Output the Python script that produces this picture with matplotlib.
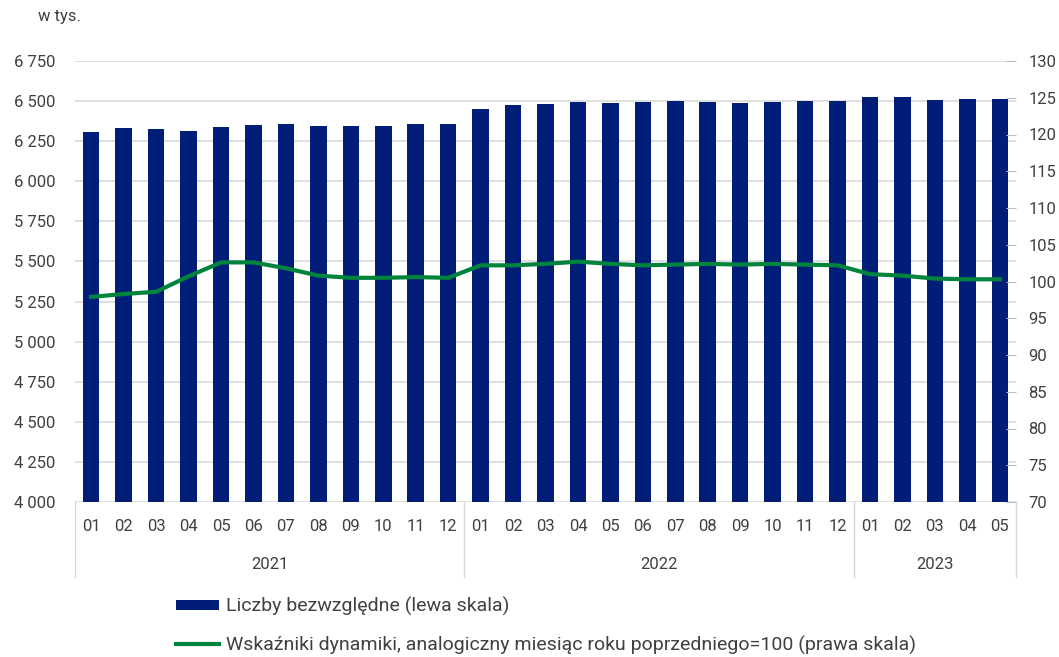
import numpy as np
import matplotlib.pyplot as plt
from matplotlib.patches import Patch
from matplotlib.lines import Line2D
import matplotlib.transforms as mtransforms

plt.rcParams['font.family'] = ['Roboto', 'DejaVu Sans']

# data
years = ['2021', '2022', '2023']
months_per_year = [12, 12, 5]
months = ['%02d' % m for n in months_per_year for m in range(1, n + 1)]

absolute = [6308, 6331, 6324, 6316, 6337, 6351, 6359, 6345, 6345, 6345, 6359, 6359,
            6450, 6473, 6479, 6494, 6486, 6494, 6500, 6494, 6486, 6494, 6500, 6500,
            6523, 6523, 6508, 6514, 6514]
dynamics = [97.9, 98.3, 98.6, 100.7, 102.6, 102.6, 101.8, 100.8, 100.5, 100.5, 100.6, 100.5,
            102.2, 102.2, 102.4, 102.7, 102.4, 102.2, 102.3, 102.4, 102.3, 102.4, 102.3, 102.2,
            101.0, 100.8, 100.4, 100.3, 100.3]

left_ticks = np.arange(4000, 6751, 250)
right_ticks = np.arange(70, 131, 5)

bar_col = '#001d77'
line_col = '#00843d'
txt_col = '#404040'
grid_col = '#d9d9d9'

fig = plt.figure(figsize=(10.59, 6.57), dpi=100)
ax = fig.add_axes([75/1059, 1-502/657, (1016-75)/1059, 441/657])
ax2 = ax.twinx()

x = np.arange(len(months))
ax.bar(x, absolute, width=0.51, color=bar_col, zorder=2)
ax.set_ylim(4000, 6750)
ax.set_xlim(-0.5, len(months) - 0.5)
ax.set_yticks(left_ticks)
ax.set_yticklabels([f"{v:,}".replace(',', ' ') for v in left_ticks])
ax.yaxis.grid(True, color=grid_col, lw=1.2, zorder=0)
ax.set_axisbelow(True)
ax.tick_params(axis='y', length=0, pad=14, labelsize=12, labelcolor=txt_col)
ax.set_xticks(x)
ax.set_xticklabels(months)
ax.tick_params(axis='x', length=0, pad=12, labelsize=12, labelcolor=txt_col)

ax2.plot(x, dynamics, color=line_col, lw=3, zorder=3)
ax2.set_ylim(70, 130)
ax2.set_yticks(right_ticks)
ax2.tick_params(axis='y', direction='in', length=7, color='#bfbfbf', pad=9,
                labelsize=12, labelcolor=txt_col)

for a in (ax, ax2):
    for s in a.spines.values():
        s.set_visible(False)

# year grouping below the month labels
trans = mtransforms.blended_transform_factory(ax.transData, ax.transAxes)
edges = np.concatenate([[0], np.cumsum(months_per_year)]) - 0.5
for e in edges:
    ax.plot([e, e], [0, -0.17], transform=trans, color=grid_col, lw=1, clip_on=False)
for i, yr in enumerate(years):
    ax.text((edges[i] + edges[i + 1]) / 2, -0.142, yr, transform=trans,
            ha='center', va='center', fontsize=12, color=txt_col)

fig.text(38/1059, 1-17/657, 'w tys.', ha='left', va='center', fontsize=12, color=txt_col)

handles = [Patch(facecolor=bar_col, edgecolor='none'),
           Line2D([0], [0], color=line_col, lw=3)]
labels = ['Liczby bezwzględne (lewa skala)',
          'Wskaźniki dynamiki, analogiczny miesiąc roku poprzedniego=100 (prawa skala)']
leg = fig.legend(handles, labels, loc='upper left', bbox_to_anchor=(176/1059, 1-597/657),
                 frameon=False, fontsize=14, handlelength=2.2, handleheight=0.46,
                 handletextpad=0.35, labelspacing=1.0, borderpad=0, borderaxespad=0)
for t in leg.get_texts():
    t.set_color(txt_col)

fig.savefig('out.png', dpi=100)
